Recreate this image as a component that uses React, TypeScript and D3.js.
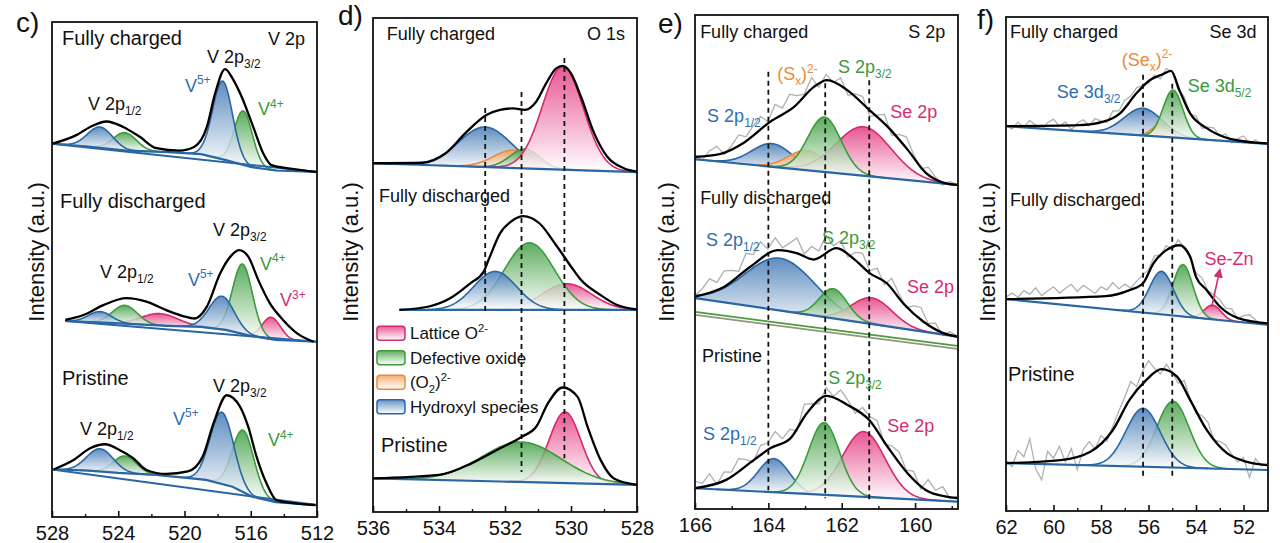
import React, { useEffect, useRef } from 'react';
import * as d3 from 'd3';

type Pt = [number, number];
// species, centre (eV), height (a.u.), sigma (eV)
type Peak = [string, number, number, number];

const FONT = '"Liberation Sans", Arial, sans-serif';

// ---------------- c) V 2p ----------------
const cTicks = [528, 524, 520, 516, 512];
const cMinor = [526, 522, 518, 514];

const cChargedEnv: Pt[] = [[528, 75.4], [526.5, 77.2], [525.7, 78.8], [524.7, 79.9], [523.7, 78.8], [522.7, 76.8], [521.7, 74.5], [520.3, 74.0], [519.4, 74.8], [518.65, 78.8], [518.15, 85.6], [517.55, 90.5], [517.05, 88.3], [516.55, 84.9], [515.85, 78.8], [515.25, 73.5], [514.75, 71.1], [513.6, 70.4], [512, 69.7]];
const cChargedBase: Pt[] = [[528, 75.4], [526, 74.9], [523.5, 74.0], [521, 73.7], [519, 73.3], [517.5, 72.1], [516, 70.7], [514.5, 70.0], [512, 69.7]];
const cChargedPeaks: Peak[] = [['V4+', 523.6, 3.6, 0.7], ['V5+', 525.1, 4.2, 0.75], ['V4+', 516.45, 10.9, 0.55], ['V5+', 517.7, 15.8, 0.6]];

const cDischargedEnv: Pt[] = [[527.2, 39.8], [526.1, 40.8], [524.9, 42.8], [523.5, 44.2], [522.3, 43.5], [521.1, 41.8], [520.1, 40.6], [519.4, 40.1], [518.65, 42.5], [517.85, 49.2], [517.15, 52.9], [516.7, 53.9], [516.15, 52.6], [515.55, 47.9], [514.85, 43.2], [514.05, 39.8], [513.2, 37.1], [512.2, 35.4]];
const cDischargedBase: Pt[] = [[527.2, 39.6], [524.5, 39.2], [521, 38.6], [519, 38.4], [517.5, 37.8], [516, 36.6], [514.5, 35.8], [512, 35.4]];
const cDischargedPeaks: Peak[] = [['V3+', 521.5, 2.4, 1.1], ['V4+', 523.6, 3.7, 0.75], ['V5+', 525.1, 2.2, 0.7], ['V3+', 514.75, 4.4, 0.55], ['V4+', 516.5, 14.1, 0.6], ['V5+', 517.75, 6.7, 0.75]];

const cPristineEnv: Pt[] = [[527.9, 9.6], [526.7, 11.5], [525.7, 13.9], [524.8, 14.7], [523.9, 13.5], [523.1, 11.9], [522.3, 9.5], [521.1, 8.7], [519.8, 9.2], [518.9, 12.2], [518.25, 18.9], [517.45, 24.6], [516.65, 22.3], [516.15, 18.2], [515.65, 12.2], [515.05, 6.8], [514.45, 3.4], [513.45, 2.8], [512.1, 2.4]];
const cPristineBase: Pt[] = [[528, 9.6], [526, 9.4], [524, 8.9], [521.7, 8.5], [518.7, 7.5], [517.1, 6.1], [515.9, 4.1], [514.5, 3.0], [512, 2.4]];
const cPristinePeaks: Peak[] = [['V4+', 523.6, 3.5, 0.7], ['V5+', 525.1, 4.6, 0.8], ['V4+', 516.45, 12.5, 0.65], ['V5+', 517.75, 14.5, 0.7]];

// ---------------- d) O 1s ----------------
const dTicks = [536, 534, 532, 530, 528];
const dMinor = [535, 533, 531, 529];

const dChargedEnv: Pt[] = [[536, 70.6], [534.5, 70.7], [533.8, 72.6], [533.2, 76.7], [532.55, 80.4], [532.15, 81.4], [531.75, 81.7], [531.4, 81.4], [531.05, 83.1], [530.75, 86.8], [530.45, 89.8], [530.25, 90.3], [530.0, 88.8], [529.7, 84.1], [529.3, 76.7], [528.9, 71.9], [528.4, 69.6], [528, 68.9]];
const dChargedBase: Pt[] = [[536, 70.6], [528, 68.8]];
const dChargedPeaks: Peak[] = [['OH', 532.6, 8.1, 0.8], ['O2', 531.75, 3.6, 0.6], ['Odef', 531.4, 3.9, 0.45], ['Olat', 530.25, 20.9, 0.62]];

const dDischargedEnv: Pt[] = [[535.2, 40.9], [534.3, 41.6], [533.65, 43.3], [533.05, 46.3], [532.65, 48.6], [532.5, 51.0], [532.15, 56.4], [531.75, 59.1], [531.45, 59.9], [530.95, 58.4], [530.45, 54.0], [530.0, 49.7], [529.7, 47.0], [529.1, 43.9], [528.6, 41.9], [528, 41.0]];
const dDischargedBase: Pt[] = [[535.2, 40.9], [528, 40.9]];
const dDischargedPeaks: Peak[] = [['Olat', 530.13, 5.3, 0.75], ['Odef', 531.26, 13.6, 0.75], ['OH', 532.3, 7.8, 0.65]];

const dPristineEnv: Pt[] = [[536, 6.8], [534, 7.5], [533, 9.9], [532.15, 12.9], [531.5, 15.2], [531.05, 17.3], [530.7, 22.0], [530.25, 25.2], [529.8, 23.3], [529.5, 17.3], [529.1, 10.5], [528.7, 6.8], [528, 5.5]];
const dPristineBase: Pt[] = [[536, 6.8], [528, 5.5]];
const dPristinePeaks: Peak[] = [['Olat', 530.18, 14.4, 0.48], ['Odef', 531.5, 8.1, 1.2]];

const dLegend: [string, string][] = [['Olat', 'Lattice O^{2-}'], ['Odef', 'Defective oxide'], ['O2', '(O_{2})^{2-}'], ['OH', 'Hydroxyl species']];

// ---------------- e) S 2p ----------------
const eTicks = [166, 164, 162, 160];
const eMinor = [165, 163, 161, 159];

const eChargedEnv: Pt[] = [[166, 71.3], [165.3, 71.9], [164.7, 74.0], [163.95, 78.4], [163.3, 81.4], [162.75, 85.5], [162.4, 86.8], [161.85, 84.8], [161.25, 80.8], [160.75, 77.4], [160.2, 72.7], [159.7, 68.0], [159.15, 65.9], [158.85, 65.6]];
const eChargedBase: Pt[] = [[166, 70.8], [158.85, 65.6]];
const eChargedPeaks: Peak[] = [['S2p1/2', 163.9, 4.7, 0.55], ['Sx', 162.95, 4.0, 0.5], ['Se2p', 161.4, 9.9, 0.75], ['S2p3/2', 162.47, 11.1, 0.45]];
const eChargedRaw = [0.3, -0.8, 0.9, 1.6, -0.4, 0.6, 2.1, 0.8, 1.9, 2.6, 0.4, 2.9, 1.2, 3.1, 1.7, 0.5, 2.4, -0.6, 1.3, 0.2, 1.8, -0.9, 0.7, 1.5, -1.2, 0.4, 1.9, -0.8, 1.1, 2.3, 0.6, -0.5, 1.4, 0.2, -0.7, 0.5, 0.0];

const eDischargedEnv: Pt[] = [[166, 43.0], [165.2, 45.0], [164.5, 49.0], [163.73, 52.4], [163.23, 51.8], [162.77, 50.5], [162.14, 52.8], [161.68, 50.7], [161.23, 47.7], [160.77, 45.7], [160.32, 41.6], [159.77, 37.9], [159.23, 35.6], [158.85, 34.9]];
const eDischargedBase: Pt[] = [[166, 42.7], [158.85, 34.9]];
const eDischargedLow: Pt[] = [[166, 39.9], [158.85, 33.0]];
const eDischargedLow2: Pt[] = [[166, 39.3], [158.85, 32.4]];
const eDischargedPeaks: Peak[] = [['S2p1/2', 163.68, 10.6, 0.95], ['Se2p', 161.18, 5.3, 0.55], ['S2p3/2', 162.23, 6.0, 0.38]];
const eDischargedRaw = [0.2, 1.1, 2.6, 1.4, 3.2, 2.2, 0.9, 3.4, 2.1, 3.8, 1.5, 2.9, 0.6, 1.8, 3.1, 0.4, 2.5, 1.2, 3.6, 0.8, 2.0, -0.4, 1.6, 2.7, 0.5, 1.9, -0.6, 2.2, 0.9, -0.3, 1.4, 2.4, 0.2, 1.1, -0.5, 0.6, 0.1];

const ePristineEnv: Pt[] = [[166, 4.2], [165.15, 5.9], [164.4, 9.9], [163.95, 12.3], [163.4, 14.3], [162.95, 19.4], [162.4, 22.9], [161.85, 21.1], [161.25, 18.0], [160.75, 12.6], [160.2, 7.2], [159.7, 3.8], [159.15, 2.5], [158.85, 2.2]];
const ePristineBase: Pt[] = [[166, 4.2], [158.85, 1.5]];
const ePristinePeaks: Peak[] = [['S2p1/2', 163.85, 6.8, 0.42], ['Se2p', 161.4, 13.2, 0.58], ['S2p3/2', 162.48, 14.6, 0.42]];
const ePristineRaw = [1.4, 0.6, 2.1, -0.4, 1.7, 0.8, 2.5, 1.2, -0.3, 2.0, 1.4, 2.9, 0.7, 1.9, -0.5, 2.6, 1.1, -0.2, 1.8, 0.5, 2.4, 1.0, -0.6, 1.6, 0.9, 2.2, -0.4, 1.3, 2.0, 0.3, 1.5, -0.7, 2.3, 0.6, 1.8, -0.3, 0.4];

// ---------------- f) Se 3d ----------------
const fTicks = [62, 60, 58, 56, 54, 52];
const fMinor = [61, 59, 57, 55, 53];

const fChargedEnv: Pt[] = [[62, 77.9], [58.9, 78.1], [57.9, 78.8], [57.2, 80.5], [56.5, 84.6], [55.95, 87.2], [55.45, 88.3], [55.05, 89.1], [54.7, 85.2], [54.25, 80.5], [53.55, 77.5], [52.6, 75.4], [51.0, 74.4]];
const fChargedBase: Pt[] = [[62, 77.9], [51, 74.3]];
const fChargedPeaks: Peak[] = [['Se3d3/2', 56.23, 5.5, 0.8], ['Sex', 55.5, 2.5, 0.35], ['Se3d5/2', 54.97, 9.6, 0.42]];
const fChargedRaw = [0.2, -0.6, 0.8, -0.3, 1.1, 0.1, -0.8, 0.6, 1.3, -0.2, 0.7, -0.9, 0.4, 1.0, -0.4, 0.9, 0.2, -0.5, 1.2, 0.6, 1.5, 0.8, 1.1, 0.4, -0.3, 0.6, -0.7, 0.9, 0.3, -0.6, 0.8, -0.2, 0.5, -0.9, 0.3, 0.7, -0.4, 0.6, -0.8, 0.2, 0.9, -0.5, 0.4, -0.3, 0.1];

const fDischargedEnv: Pt[] = [[62, 42.9], [57.8, 43.5], [56.8, 44.7], [56.23, 46.1], [55.8, 50.1], [55.25, 52.8], [54.7, 53.8], [54.25, 51.5], [54.0, 47.4], [53.55, 44.7], [53.0, 41.4], [52.2, 39.0], [51.0, 38.0]];
const fDischargedBase: Pt[] = [[62, 42.9], [51, 37.7]];
const fDischargedPeaks: Peak[] = [['SeZn', 53.3, 2.9, 0.35], ['Se3d5/2', 54.55, 10.5, 0.42], ['Se3d3/2', 55.45, 8.7, 0.5]];
const fDischargedRaw = [0.4, 1.2, 0.3, 1.6, 0.8, 2.1, 0.5, 1.4, 2.2, 0.9, 1.8, 2.6, 1.1, 2.3, 1.5, 0.6, 1.9, 1.2, 2.4, 0.8, 1.5, 0.3, 1.1, 1.7, 0.6, 1.3, 0.2, 0.9, -0.4, 1.2, 0.5, -0.3, 0.8, 1.3, 0.2, 0.9, 1.4, 0.4, 1.0, -0.2, 0.7, 1.1, 0.3, -0.5, 0.2];

const fPristineEnv: Pt[] = [[62, 9.7], [59.7, 10.3], [58.45, 12.0], [57.5, 16.4], [56.8, 22.5], [56.1, 26.5], [55.45, 28.7], [54.8, 27.2], [54.25, 22.5], [53.55, 16.4], [52.7, 11.7], [51.9, 10.0], [51.0, 9.3]];
const fPristineBase: Pt[] = [[62, 9.7], [51, 8.3]];
const fPristinePeaks: Peak[] = [['Se3d5/2', 54.97, 13.4, 0.68], ['Se3d3/2', 56.23, 11.8, 0.72]];
const fPristineRaw = [0.6, -0.8, 2.4, 1.1, 4.6, -1.5, -3.8, 1.9, 0.5, 2.8, -0.6, 1.7, -2.9, 0.9, 2.1, -0.4, 1.2, -1.1, 0.8, 1.6, 2.3, 3.4, 1.0, 2.7, 3.6, 1.2, -0.8, 1.5, 0.4, -0.9, 1.8, 0.3, -0.6, 1.2, 1.9, -0.3, 0.7, 1.4, 0.2, -0.8, 0.6, -3.1, 0.9, -0.4, 0.3];

// ---------------- styling ----------------
const palette: Record<string, { fill: string; stroke: string }> = {
  blue: { fill: '#3c74b2', stroke: '#2c66a2' },
  green: { fill: '#389a3a', stroke: '#3d9b3d' },
  pink: { fill: '#e3327b', stroke: '#d42a70' },
  orange: { fill: '#f09a52', stroke: '#ec8a3a' },
};
const speciesColor: Record<string, string> = {
  'V5+': 'blue', 'V4+': 'green', 'V3+': 'pink',
  OH: 'blue', O2: 'orange', Odef: 'green', Olat: 'pink',
  'S2p1/2': 'blue', Sx: 'orange', 'S2p3/2': 'green', Se2p: 'pink',
  'Se3d3/2': 'blue', Sex: 'orange', 'Se3d5/2': 'green', SeZn: 'pink',
};
const labelColor: Record<string, string> = {
  black: '#111', blue: '#2f6eae', green: '#3b9a3b', pink: '#d62c76', orange: '#ee8a36',
};
const BASE_COLOR = '#2a66a3';

interface Spectrum { env: Pt[]; base: Pt[]; peaks: Peak[]; raw?: number[]; shirley?: boolean; lows?: Pt[][] }
interface Note { t: string; be: number; u: number; c?: string; size?: number; anchor?: 'start' | 'end' }
interface PanelSpec {
  key: string; tag: string; tagXY: Pt; box: { l: number; r: number; t: number; b: number };
  domain: Pt; ticks: number[]; minor: number[]; spectra: Spectrum[];
  dashes: [number, number, number][]; notes: Note[]; ylabX: number; legend?: boolean;
  arrow?: [Pt, Pt];
}

const panels: PanelSpec[] = [
  {
    key: 'c', tag: 'c)', tagXY: [16, 32], box: { l: 52, r: 317, t: 22, b: 517 }, domain: [528, 512],
    ticks: cTicks, minor: cMinor, ylabX: 44,
    spectra: [
      { env: cChargedEnv, base: cChargedBase, peaks: cChargedPeaks, shirley: true },
      { env: cDischargedEnv, base: cDischargedBase, peaks: cDischargedPeaks, shirley: true },
      { env: cPristineEnv, base: cPristineBase, peaks: cPristinePeaks, shirley: true },
    ],
    dashes: [],
    notes: [
      { t: 'Fully charged', be: 527.4, u: 95.4, size: 20 },
      { t: 'V 2p', be: 512.72, u: 95.4, anchor: 'end' },
      { t: 'V 2p_{3/2}', be: 518.64, u: 91.7 },
      { t: 'V^{5+}', be: 519.97, u: 85.9, c: 'blue' },
      { t: 'V^{4+}', be: 515.56, u: 81.2, c: 'green' },
      { t: 'V 2p_{1/2}', be: 525.83, u: 82.2 },
      { t: 'Fully discharged', be: 527.52, u: 62.4, size: 20 },
      { t: 'V 2p_{3/2}', be: 518.28, u: 56.8 },
      { t: 'V 2p_{1/2}', be: 525.1, u: 48.3 },
      { t: 'V^{5+}', be: 519.79, u: 46.7, c: 'blue' },
      { t: 'V^{4+}', be: 515.44, u: 49.9, c: 'green' },
      { t: 'V^{3+}', be: 514.23, u: 42.6, c: 'pink' },
      { t: 'Pristine', be: 527.4, u: 26.7, size: 20 },
      { t: 'V 2p_{3/2}', be: 518.28, u: 25.3 },
      { t: 'V^{5+}', be: 520.69, u: 18.6, c: 'blue' },
      { t: 'V 2p_{1/2}', be: 526.31, u: 16.6 },
      { t: 'V^{4+}', be: 514.96, u: 14.3, c: 'green' },
    ],
  },
  {
    key: 'd', tag: 'd)', tagXY: [338, 25], box: { l: 373, r: 637, t: 18, b: 512 }, domain: [536, 528],
    ticks: dTicks, minor: dMinor, ylabX: 358, legend: true,
    spectra: [
      { env: dChargedEnv, base: dChargedBase, peaks: dChargedPeaks },
      { env: dDischargedEnv, base: dDischargedBase, peaks: dDischargedPeaks },
      { env: dPristineEnv, base: dPristineBase, peaks: dPristinePeaks },
    ],
    dashes: [[532.6, 81.8, 40.3], [531.5, 85.0, 8.1], [530.2, 91.9, 10.9]],
    notes: [
      { t: 'Fully charged', be: 535.58, u: 95.5 },
      { t: 'O 1s', be: 528.36, u: 95.5, anchor: 'end' },
      { t: 'Fully discharged', be: 535.82, u: 62.8 },
      { t: 'Pristine', be: 535.76, u: 12.1, size: 20 },
    ],
  },
  {
    key: 'e', tag: 'e)', tagXY: [658, 33], box: { l: 695, r: 958, t: 15, b: 509 }, domain: [166, 158.83],
    ticks: eTicks, minor: eMinor, ylabX: 674,
    spectra: [
      { env: eChargedEnv, base: eChargedBase, peaks: eChargedPeaks, raw: eChargedRaw },
      { env: eDischargedEnv, base: eDischargedBase, peaks: eDischargedPeaks, raw: eDischargedRaw, lows: [eDischargedLow, eDischargedLow2] },
      { env: ePristineEnv, base: ePristineBase, peaks: ePristinePeaks, raw: ePristineRaw },
    ],
    dashes: [[164.0, 88.5, 3.8], [162.45, 86.2, 2.2], [161.25, 86.8, 1.8]],
    notes: [
      { t: 'Fully charged', be: 165.86, u: 95.3 },
      { t: 'S 2p', be: 159.18, u: 95.3, anchor: 'end' },
      { t: '(S_{x})^{2-}', be: 163.76, u: 86.8, c: 'orange' },
      { t: 'S 2p_{3/2}', be: 162.1, u: 88.3, c: 'green' },
      { t: 'S 2p_{1/2}', be: 165.67, u: 78.3, c: 'blue' },
      { t: 'Se 2p', be: 160.68, u: 79.1, c: 'pink' },
      { t: 'Fully discharged', be: 165.86, u: 61.7 },
      { t: 'S 2p_{1/2}', be: 165.7, u: 53.2, c: 'blue' },
      { t: 'S 2p_{3/2}', be: 162.54, u: 53.6, c: 'green' },
      { t: 'Se 2p', be: 160.22, u: 43.7, c: 'pink' },
      { t: 'Pristine', be: 165.81, u: 29.8 },
      { t: 'S 2p_{3/2}', be: 162.37, u: 25.3, c: 'green' },
      { t: 'Se 2p', be: 160.76, u: 15.6, c: 'pink' },
      { t: 'S 2p_{1/2}', be: 165.78, u: 14.0, c: 'blue' },
    ],
  },
  {
    key: 'f', tag: 'f)', tagXY: [977, 29], box: { l: 1006, r: 1268, t: 17, b: 511 }, domain: [62, 50.97],
    ticks: fTicks, minor: fMinor, ylabX: 995,
    spectra: [
      { env: fChargedEnv, base: fChargedBase, peaks: fChargedPeaks, raw: fChargedRaw },
      { env: fDischargedEnv, base: fDischargedBase, peaks: fDischargedPeaks, raw: fDischargedRaw },
      { env: fPristineEnv, base: fPristineBase, peaks: fPristinePeaks, raw: fPristineRaw },
    ],
    dashes: [[56.23, 88.3, 7.1], [55.0, 86.5, 7.1]],
    notes: [
      { t: 'Fully charged', be: 61.83, u: 95.7 },
      { t: 'Se 3d', be: 51.45, u: 95.7, anchor: 'end' },
      { t: '(Se_{x})^{2-}', be: 57.13, u: 90.1, c: 'orange' },
      { t: 'Se 3d_{3/2}', be: 59.86, u: 83.6, c: 'blue' },
      { t: 'Se 3d_{5/2}', be: 54.35, u: 84.8, c: 'green' },
      { t: 'Fully discharged', be: 61.83, u: 61.7 },
      { t: 'Se-Zn', be: 53.64, u: 49.8, c: 'pink' },
      { t: 'Pristine', be: 61.92, u: 26.3, size: 20 },
    ],
    arrow: [[53.34, 41.3], [53.0, 48.8]],
  },
];

const gauss = (v: number, c: number, h: number, s: number) => h * Math.exp(-((v - c) ** 2) / (2 * s * s));

// tiny markup: _{sub} ^{sup}
const RichText: React.FC<{ x: number; y: number; text: string; size: number; color: string; anchor?: string }> = ({ x, y, text, size, color, anchor }) => {
  const parts = text.match(/(_\{[^}]*\}|\^\{[^}]*\}|[^_^]+)/g) || [];
  let shift = 0;
  return (
    <text x={x} y={y} fontSize={size} fill={color} fontFamily={FONT} textAnchor={anchor || 'start'}>
      {parts.map((p, i) => {
        const kind = p.startsWith('_{') ? 'sub' : p.startsWith('^{') ? 'sup' : 'n';
        const body = kind === 'n' ? p : p.slice(2, -1);
        const target = kind === 'sub' ? size * 0.28 : kind === 'sup' ? -size * 0.42 : 0;
        const dy = target - shift;
        shift = target;
        return (
          <tspan key={i} dy={dy} fontSize={kind === 'n' ? size : size * 0.66}>{body}</tspan>
        );
      })}
    </text>
  );
};

const BottomAxis: React.FC<{ scale: d3.ScaleLinear<number, number>; ticks: number[]; minor: number[]; y: number }> = ({ scale, ticks, minor, y }) => {
  const ref = useRef<SVGGElement>(null);
  useEffect(() => {
    if (!ref.current) return;
    const g = d3.select(ref.current);
    g.selectAll('*').remove();
    const minorG = g.append('g');
    minorG.call(d3.axisBottom(scale).tickValues(minor).tickFormat(() => '').tickSizeInner(-3).tickSizeOuter(0) as any);
    minorG.select('.domain').remove();
    minorG.selectAll('line').attr('stroke', '#111').attr('stroke-width', 1.4);
    const majorG = g.append('g');
    majorG.call(d3.axisBottom(scale).tickValues(ticks).tickFormat(d3.format('d') as any).tickSizeInner(-6).tickSizeOuter(0).tickPadding(9) as any);
    majorG.select('.domain').remove();
    majorG.selectAll('line').attr('stroke', '#111').attr('stroke-width', 1.6);
    majorG.selectAll('text').attr('font-size', 20).attr('font-family', FONT).attr('fill', '#111');
  }, [scale, ticks, minor]);
  return <g ref={ref} transform={`translate(0,${y})`} />;
};

const SpectrumView: React.FC<{ sp: Spectrum; x: d3.ScaleLinear<number, number>; y: d3.ScaleLinear<number, number> }> = ({ sp, x, y }) => {
  const hi = sp.env[0][0];
  const lo = sp.env[sp.env.length - 1][0];
  const baseAt = d3.scaleLinear().domain(sp.base.map(d => d[0])).range(sp.base.map(d => d[1]));
  const envAt = d3.scaleLinear().domain(sp.env.map(d => d[0])).range(sp.env.map(d => d[1]));
  const line = d3.line<Pt>().x(d => x(d[0])).y(d => y(d[1]));
  const smooth = d3.line<Pt>().x(d => x(d[0])).y(d => y(d[1])).curve(d3.curveMonotoneX);

  type Cp = { be: number; b: number; v: number };
  const area = d3.area<Cp>().x(d => x(d.be)).y0(d => y(d.b)).y1(d => y(d.b + d.v));
  const top = d3.line<Cp>().x(d => x(d.be)).y(d => y(d.b + d.v));

  const comps = sp.peaks.map(([name, c, h, s]) => {
    const a = Math.min(hi, c + 3.8 * s);
    const z = Math.max(lo, c - 3.8 * s);
    const pts: Cp[] = d3.range(a, z, -s / 25).concat([z]).map(be => ({ be, b: baseAt(be), v: gauss(be, c, h, s) }));
    return { color: speciesColor[name], pts };
  });

  let rawPts: Pt[] = [];
  if (sp.raw) {
    const n = sp.raw.length;
    rawPts = sp.raw.map((off, i) => {
      const be = hi - (i * (hi - lo)) / (n - 1);
      return [be, envAt(be) + off] as Pt;
    });
  }

  return (
    <g>
      {sp.raw && <path d={line(rawPts) || ''} fill="none" stroke="#b0b0b0" strokeWidth={1.3} />}
      {sp.lows && sp.lows.map((l, i) => (
        <path key={i} d={line(l) || ''} fill="none" stroke={i === 0 ? '#4f9a3e' : '#8a9a7a'} strokeWidth={1.8} />
      ))}
      {comps.map((cp, i) => (
        <g key={i}>
          <path d={area(cp.pts) || ''} fill={`url(#grad-${cp.color})`} fillOpacity={0.82} />
          <path d={top(cp.pts) || ''} fill="none" stroke={palette[cp.color].stroke} strokeWidth={1.6} />
        </g>
      ))}
      {sp.shirley && <path d={line([sp.base[0], sp.base[sp.base.length - 1]]) || ''} fill="none" stroke={BASE_COLOR} strokeWidth={2} />}
      <path d={line(sp.base) || ''} fill="none" stroke={BASE_COLOR} strokeWidth={2.2} />
      <path d={smooth(sp.env) || ''} fill="none" stroke="#000" strokeWidth={2.3} />
    </g>
  );
};

const Panel: React.FC<{ p: PanelSpec }> = ({ p }) => {
  const x = d3.scaleLinear().domain(p.domain).range([p.box.l, p.box.r]);
  const y = d3.scaleLinear().domain([0, 100]).range([p.box.b, p.box.t]);
  const clipId = `clip-${p.key}`;
  const yMid = 252;
  return (
    <g>
      <defs>
        <clipPath id={clipId}>
          <rect x={p.box.l} y={p.box.t} width={p.box.r - p.box.l} height={p.box.b - p.box.t} />
        </clipPath>
      </defs>
      <g clipPath={`url(#${clipId})`}>
        {p.spectra.map((sp, i) => <SpectrumView key={i} sp={sp} x={x} y={y} />)}
        {p.dashes.map(([be, u0, u1], i) => (
          <line key={i} x1={x(be)} x2={x(be)} y1={y(u0)} y2={y(u1)} stroke="#111" strokeWidth={1.8} strokeDasharray="5,4" />
        ))}
      </g>
      {p.arrow && (
        <line x1={x(p.arrow[0][0])} y1={y(p.arrow[0][1])} x2={x(p.arrow[1][0])} y2={y(p.arrow[1][1])}
          stroke={labelColor.pink} strokeWidth={1.6} markerEnd="url(#arrow-pink)" />
      )}
      {p.legend && dLegend.map(([sp, label], i) => {
        const lx = x(535.88);
        const cy = y(36.2) + i * 24.5;
        const col = speciesColor[sp];
        return (
          <g key={sp}>
            <rect x={lx} y={cy - 7} width={28} height={14} rx={3} fill={`url(#grad-${col})`} fillOpacity={0.8}
              stroke={palette[col].stroke} strokeWidth={1.5} />
            <RichText x={lx + 33} y={cy + 6} text={label} size={17} color="#111" />
          </g>
        );
      })}
      {p.notes.map((n, i) => (
        <RichText key={i} x={x(n.be)} y={y(n.u)} text={n.t} size={n.size || 18}
          color={labelColor[n.c || 'black']} anchor={n.anchor} />
      ))}
      <rect x={p.box.l} y={p.box.t} width={p.box.r - p.box.l} height={p.box.b - p.box.t} fill="none" stroke="#111" strokeWidth={1.8} />
      <BottomAxis scale={x} ticks={p.ticks} minor={p.minor} y={p.box.b} />
      <text x={p.tagXY[0]} y={p.tagXY[1]} fontSize={28} fontFamily={FONT} fill="#111">{p.tag}</text>
      <text transform={`translate(${p.ylabX},${yMid}) rotate(-90)`} textAnchor="middle" fontSize={22} fontFamily={FONT} fill="#111">
        Intensity (a.u.)
      </text>
    </g>
  );
};

export default function App() {
  return (
    <svg width={1280} height={543} style={{ position: 'fixed', left: 0, top: 0, background: '#fff' }}>
      <defs>
        {Object.entries(palette).map(([k, c]) => (
          <linearGradient key={k} id={`grad-${k}`} x1="0" y1="0" x2="0" y2="1">
            <stop offset="0%" stopColor={c.fill} stopOpacity={1} />
            <stop offset="100%" stopColor="#ffffff" stopOpacity={1} />
          </linearGradient>
        ))}
        <marker id="arrow-pink" viewBox="0 0 10 10" refX="8" refY="5" markerWidth="6" markerHeight="6" orient="auto-start-reverse">
          <path d="M0,0 L10,5 L0,10 z" fill={labelColor.pink} />
        </marker>
      </defs>
      <rect x={0} y={0} width={1280} height={543} fill="#fff" />
      {panels.map(p => <Panel key={p.key} p={p} />)}
    </svg>
  );
}
